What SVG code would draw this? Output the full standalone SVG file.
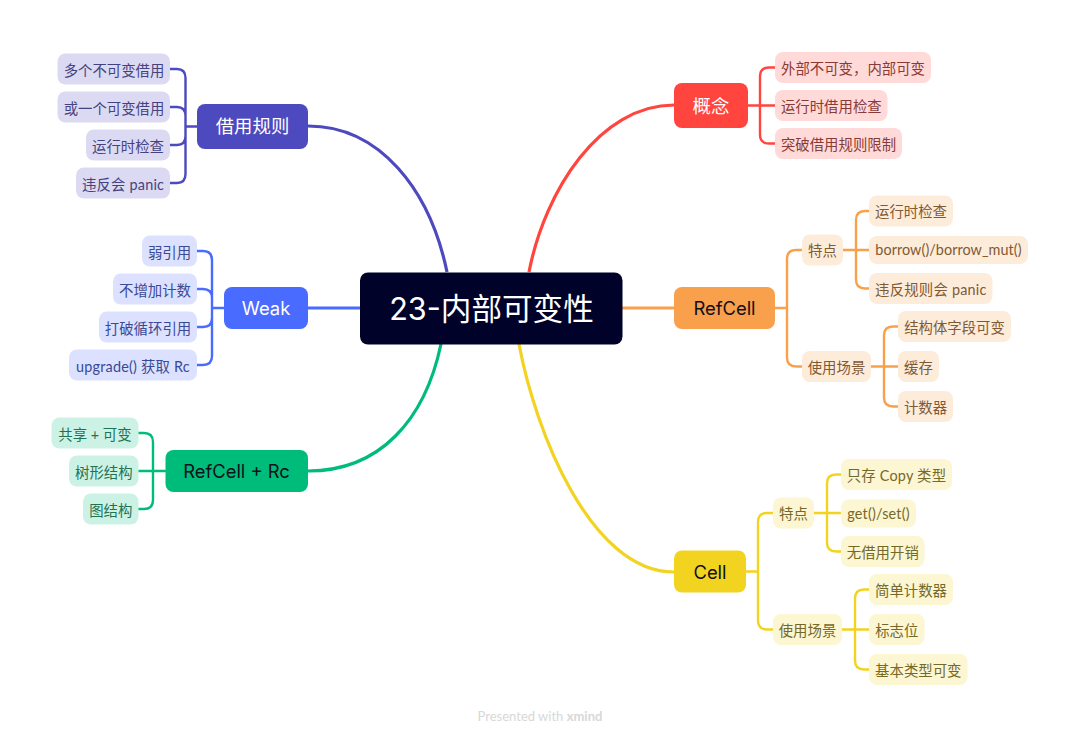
<svg xmlns="http://www.w3.org/2000/svg" width="1080" height="738" viewBox="0 0 1080 738">
<style>
text{font-family:"Lato","Noto Sans CJK SC",sans-serif;text-anchor:middle;font-size:14.4px}
.c{fill:none;stroke-linecap:round;stroke-width:2.4}
.m{fill:none;stroke-width:3.2}
.pu{stroke:#4d49be}.bl{stroke:#4a6bff}.gr{stroke:#00bc7b}.re{stroke:#ff453d}.or{stroke:#f9a04d}.ye{stroke:#f2d31f}
.lpu rect{fill:#dbdaf2}.lpu text{fill:#45437f}
.lbl rect{fill:#dbe1ff}.lbl text{fill:#3a4a95}
.lgr rect{fill:#ccf2e5}.lgr text{fill:#1f7355}
.lre rect{fill:#ffdad8}.lre text{fill:#8a3a36}
.lor rect{fill:#feecdb}.lor text{fill:#7f5a33}
.lye rect{fill:#fcf6d2}.lye text{fill:#75692a}
.t text{font-size:18.400px;font-family:"Inter","Noto Sans CJK SC",sans-serif}
.w text{fill:#fff}.k text{fill:#10101a}
.s{letter-spacing:.2px}
.s2{letter-spacing:.06px}
</style>
<g id="connectors">
<path class="m pu" d="M308 126C380 126 430 190 447 272"/>
<path class="m re" d="M529 272C545 190 600 105 674 105"/>
<path class="m gr" d="M441 344C425 420 380 471 308 471"/>
<path class="m ye" d="M519 344C535 430 590 572 674 572"/>
<path class="m or" d="M622 308H674"/>
<path class="m bl" d="M308 308H360"/>
<path class="c pu" d="M197 126.500H185.500M170 69H177Q185.500 69 185.500 78V174Q185.500 183 177 183H170M170 107H177Q185.500 107 185.500 116V136Q185.500 145 177 145H170"/>
<path class="c bl" d="M224 308H212M197 251H203Q212 251 212 260V356Q212 365 203 365H197M197 289H203Q212 289 212 298V318Q212 327 203 327H197"/>
<path class="c gr" d="M165 471H138.500M138.500 433H144Q153 433 153 442V500Q153 509 144 509H138.500"/>
<path class="c re" d="M748 105.500H775M775 67.500H769Q760 67.500 760 76.500V134.500Q760 143.500 769 143.500H775"/>
<path class="c or" d="M775 308H787M802 250H796Q787 250 787 259V357.500Q787 366.500 796 366.500H802M843 250H869M869 211H865Q856 211 856 220V279.500Q856 288.500 865 288.500H869M871 366.500H898M898 326.500H893Q884 326.500 884 335.500V397.500Q884 406.500 893 406.500H898"/>
<path class="c ye" d="M746 571.500H758M773 513H767Q758 513 758 522V620.500Q758 629.500 767 629.500H773M814 513H841M841 474.500H836Q827 474.500 827 483.500V542.500Q827 551.500 836 551.500H841M842 629.500H869M869 589.500H864Q855 589.500 855 598.500V660.500Q855 669.500 864 669.500H869"/>
</g>
<g id="root"><rect x="360" y="272.500" width="262.500" height="72" rx="8" fill="#000229"/><text x="491.500" y="320" fill="#fff" style="font-size:30.600px;font-family:Inter,'Noto Sans CJK SC',sans-serif">23-内部可变性</text></g>
<g id="n-borrow" class="t w"><rect x="197" y="104" width="111" height="45" rx="8" fill="#4d49be"/><text x="252.500" y="133">借用规则</text></g>
<g id="n-weak" class="t w"><rect x="224" y="287" width="84" height="42" rx="8" fill="#4a6bff"/><text x="266" y="315">Weak</text></g>
<g id="n-refrc" class="t k"><rect x="165.500" y="450" width="142.500" height="42" rx="8" fill="#00bc7b"/><text x="236.500" y="478">RefCell + Rc</text></g>
<g id="n-concept" class="t w"><rect x="674" y="83" width="74" height="45" rx="8" fill="#ff453d"/><text x="711" y="112.500">概念</text></g>
<g id="n-refcell" class="t k"><rect x="674" y="287" width="101" height="42" rx="8" fill="#f9a04d"/><text x="724.500" y="315">RefCell</text></g>
<g id="n-cell" class="t k"><rect x="674" y="550.500" width="72" height="42" rx="8" fill="#f2d31f"/><text x="710" y="578.500">Cell</text></g>
<g id="a1" class="lpu"><rect x="57.500" y="53.500" width="112.500" height="31" rx="8"/><text x="114" y="75.500">多个不可变借用</text></g>
<g id="a2" class="lpu"><rect x="57.500" y="91.500" width="112.500" height="31" rx="8"/><text x="114" y="113.500">或一个可变借用</text></g>
<g id="a3" class="lpu"><rect x="86" y="129.500" width="84" height="31" rx="8"/><text x="128" y="151.500">运行时检查</text></g>
<g id="a4" class="lpu"><rect x="76" y="167.500" width="94" height="31" rx="8"/><text x="123" y="189.500" class="s">违反会 panic</text></g>
<g id="b1" class="lbl"><rect x="142" y="235.500" width="55" height="31" rx="8"/><text x="169.500" y="257.500">弱引用</text></g>
<g id="b2" class="lbl"><rect x="113" y="273.500" width="84" height="31" rx="8"/><text x="155" y="295.500">不增加计数</text></g>
<g id="b3" class="lbl"><rect x="99" y="311.500" width="98" height="31" rx="8"/><text x="148" y="333.500">打破循环引用</text></g>
<g id="b4" class="lbl"><rect x="69" y="349.500" width="128" height="31" rx="8"/><text x="133" y="371.500" class="s">upgrade() 获取 Rc</text></g>
<g id="c1" class="lgr"><rect x="51.500" y="417.500" width="87" height="31" rx="8"/><text x="95" y="439.500">共享 + 可变</text></g>
<g id="c2" class="lgr"><rect x="69" y="455.500" width="69.500" height="31" rx="8"/><text x="103.800" y="477.500">树形结构</text></g>
<g id="c3" class="lgr"><rect x="83" y="493.500" width="55.500" height="31" rx="8"/><text x="110.800" y="515.500">图结构</text></g>
<g id="d1" class="lre"><rect x="775" y="52" width="156" height="31" rx="8"/><text x="853" y="73.500">外部不可变，内部可变</text></g>
<g id="d2" class="lre"><rect x="775" y="90" width="112.500" height="31" rx="8"/><text x="831.300" y="111.500">运行时借用检查</text></g>
<g id="d3" class="lre"><rect x="775" y="128" width="127" height="31" rx="8"/><text x="838.500" y="149.500">突破借用规则限制</text></g>
<g id="e0" class="lor"><rect x="802" y="234.500" width="41" height="31" rx="8"/><text x="822.500" y="256">特点</text></g>
<g id="e1" class="lor"><rect x="802" y="351" width="69" height="31" rx="8"/><text x="836.500" y="372.500">使用场景</text></g>
<g id="e2" class="lor"><rect x="869" y="195.500" width="84" height="31" rx="8"/><text x="911" y="217">运行时检查</text></g>
<g id="e3" class="lor"><rect x="869" y="236" width="159" height="28" rx="8"/><text x="948.500" y="255" class="s2">borrow()/borrow_mut()</text></g>
<g id="e4" class="lor"><rect x="869" y="273" width="123.500" height="31" rx="8"/><text x="930.800" y="294.500" class="s">违反规则会 panic</text></g>
<g id="e5" class="lor"><rect x="898" y="311" width="113" height="31" rx="8"/><text x="954.500" y="332.500">结构体字段可变</text></g>
<g id="e6" class="lor"><rect x="898" y="351" width="41" height="31" rx="8"/><text x="918.500" y="372.500">缓存</text></g>
<g id="e7" class="lor"><rect x="898" y="391" width="55" height="31" rx="8"/><text x="925.500" y="412.500">计数器</text></g>
<g id="f0" class="lye"><rect x="773" y="497.500" width="41" height="31" rx="8"/><text x="793.500" y="519">特点</text></g>
<g id="f1" class="lye"><rect x="773" y="614" width="69" height="31" rx="8"/><text x="807.500" y="635.500">使用场景</text></g>
<g id="f2" class="lye"><rect x="841" y="459" width="111" height="31" rx="8"/><text x="896.500" y="480.500" class="s">只存 Copy 类型</text></g>
<g id="f3" class="lye"><rect x="841" y="499.500" width="75" height="28" rx="8"/><text x="878.500" y="518.500" class="s">get()/set()</text></g>
<g id="f4" class="lye"><rect x="841" y="536" width="83.500" height="31" rx="8"/><text x="882.800" y="557.500">无借用开销</text></g>
<g id="f5" class="lye"><rect x="869" y="574" width="84" height="31" rx="8"/><text x="911" y="595.500">简单计数器</text></g>
<g id="f6" class="lye"><rect x="869" y="614" width="55.500" height="31" rx="8"/><text x="896.800" y="635.500">标志位</text></g>
<g id="f7" class="lye"><rect x="869" y="654" width="98.500" height="31" rx="8"/><text x="918.300" y="675.500">基本类型可变</text></g>
<text x="540" y="721" fill="#d8d8d8" style="font-size:13px">Presented with <tspan font-weight="700">xmind</tspan></text>
</svg>
